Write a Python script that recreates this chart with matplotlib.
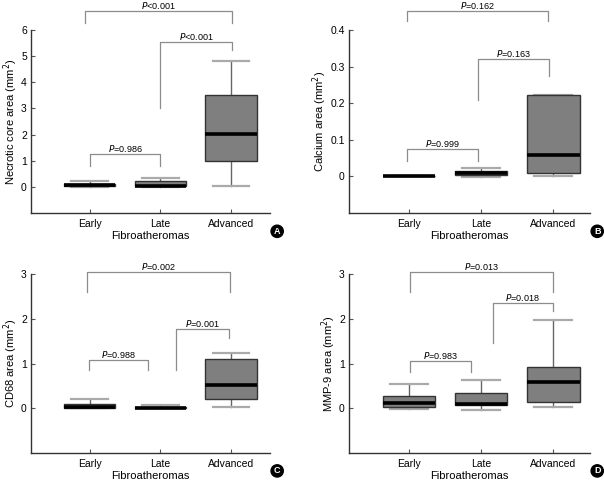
import matplotlib
matplotlib.use("Agg")
import matplotlib.pyplot as plt

plt.rcParams['font.family'] = ['Liberation Sans', 'DejaVu Sans']

categories = ["Early", "Late", "Advanced"]
x_label = "Fibroatheromas"

# box stats per panel: (whislo, q1, med, q3, whishi) for Early, Late, Advanced
necrotic = [(0.0, 0.02, 0.07, 0.10, 0.22),
            (0.0, 0.02, 0.03, 0.22, 0.35),
            (0.02, 1.00, 2.02, 3.52, 4.82)]
calcium = [(0.0, 0.0, 0.0, 0.002, 0.0),
           (-0.003, 0.004, 0.008, 0.015, 0.023),
           (0.001, 0.010, 0.058, 0.222, 0.222)]
cd68 = [(0.0, 0.01, 0.02, 0.09, 0.20),
        (0.0, 0.0, 0.01, 0.02, 0.07),
        (0.02, 0.20, 0.52, 1.09, 1.23)]
mmp9 = [(-0.02, 0.03, 0.12, 0.27, 0.54),
        (-0.04, 0.07, 0.09, 0.33, 0.63),
        (0.02, 0.13, 0.59, 0.92, 1.98)]

# brackets: (x_left, x_right, y_top, y_left_end, y_right_end, label)
necrotic_br = [(0.93, 3.01, 6.72, 6.28, 6.28, "<0.001"),
               (2.00, 3.01, 5.55, 3.00, 5.25, "<0.001"),
               (1.00, 2.00, 1.26, 0.80, 0.80, "=0.986")]
calcium_br = [(0.97, 2.93, 0.452, 0.424, 0.424, "=0.162"),
              (1.96, 2.94, 0.320, 0.210, 0.273, "=0.163"),
              (0.97, 1.96, 0.074, 0.041, 0.041, "=0.999")]
cd68_br = [(0.96, 2.99, 3.04, 2.60, 2.60, "=0.002"),
           (2.22, 2.97, 1.77, 0.85, 1.57, "=0.001"),
           (0.99, 1.82, 1.07, 0.85, 0.85, "=0.988")]
mmp9_br = [(1.01, 3.00, 3.04, 2.60, 2.60, "=0.013"),
           (2.16, 3.00, 2.35, 1.45, 2.17, "=0.018"),
           (1.01, 1.86, 1.05, 0.80, 0.80, "=0.983")]

W, H = 604, 482
fig = plt.figure(figsize=(W / 100, H / 100), dpi=100)


def px_axes(left, top, right, bottom):
    return fig.add_axes([left / W, 1 - bottom / H, (right - left) / W, (bottom - top) / H])


def draw_panel(ax, stats, brackets, ylim, yticks, yticklabels, ylabel, letter, xlim):
    bxp = []
    for lo, q1, med, q3, hi in stats:
        bxp.append(dict(whislo=lo, q1=q1, med=med, q3=q3, whishi=hi, fliers=[]))
    ax.bxp(bxp, positions=[1, 2, 3], widths=0.73, patch_artist=True,
           boxprops=dict(facecolor="#7f7f7f", edgecolor="#333333", linewidth=1, zorder=2),
           medianprops=dict(color="black", linewidth=2.6, zorder=3),
           whiskerprops=dict(color="#666666", linewidth=1, zorder=1.8),
           capprops=dict(color="#aaaaaa", linewidth=1.6, zorder=1.8),
           capwidths=0.52)
    ax.set_xlim(*xlim)
    ax.set_ylim(*ylim)
    ax.set_yticks(yticks)
    ax.set_yticklabels(yticklabels)
    ax.set_xticks([1, 2, 3])
    ax.set_xticklabels(categories)
    ax.tick_params(direction="in", length=3, labelsize=7.5, color="#555555", pad=4)
    ax.tick_params(axis="y", pad=3)
    ax.spines["top"].set_visible(False)
    ax.spines["right"].set_visible(False)
    for s in ("left", "bottom"):
        ax.spines[s].set_color("#333333")
        ax.spines[s].set_linewidth(1)
    ax.set_xlabel(x_label, fontsize=8, labelpad=2)
    ax.set_ylabel(ylabel, fontsize=8, labelpad=1)
    for xl, xr, yt, yl, yr, lab in brackets:
        ax.plot([xl, xl, xr, xr], [yl, yt, yt, yr], color="#8c8c8c", lw=0.9,
                clip_on=False)
        ax.text((xl + xr) / 2, yt, "$P$" + lab, ha="center", va="bottom",
                fontsize=6.5, clip_on=False)
    # panel letter badge
    ax.annotate(letter, xy=(1.03, -0.1), xycoords="axes fraction", ha="center",
                va="center", fontsize=6.5, fontweight="bold", color="white",
                bbox=dict(boxstyle="circle,pad=0.18", fc="black", ec="black"),
                annotation_clip=False)


ax_a = px_axes(31, 30, 270, 213)
draw_panel(ax_a, necrotic, necrotic_br, (-1, 6), range(0, 7),
           [str(v) for v in range(0, 7)], "Necrotic core area (mm$^2$)", "A", (0.17, 3.55))

ax_b = px_axes(349, 30, 590, 213)
draw_panel(ax_b, calcium, calcium_br, (-0.1, 0.4), [0, 0.1, 0.2, 0.3, 0.4],
           ["0", "0.1", "0.2", "0.3", "0.4"], "Calcium area (mm$^2$)", "B", (0.17, 3.51))

ax_c = px_axes(31, 274, 270, 453)
draw_panel(ax_c, cd68, cd68_br, (-1, 3), [0, 1, 2, 3],
           ["0", "1", "2", "3"], "CD68 area (mm$^2$)", "C", (0.17, 3.55))

ax_d = px_axes(349, 274, 590, 453)
draw_panel(ax_d, mmp9, mmp9_br, (-1, 3), [0, 1, 2, 3],
           ["0", "1", "2", "3"], "MMP-9 area (mm$^2$)", "D", (0.17, 3.51))

fig.savefig("out.png", dpi=100)
